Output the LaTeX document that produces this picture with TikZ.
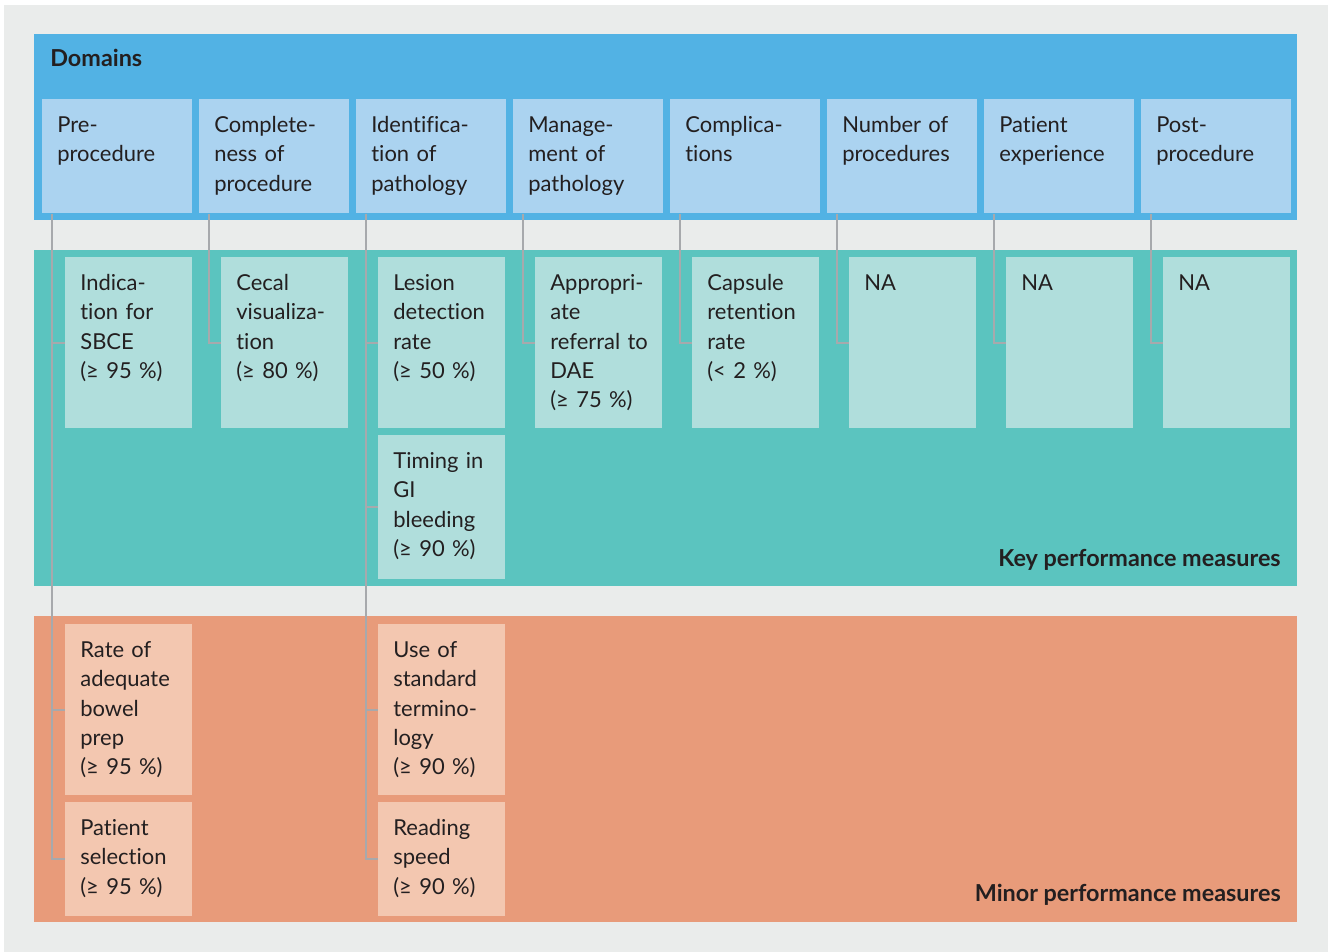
\documentclass[tikz,border=0pt]{standalone}
\usepackage{fontspec}
\setmainfont{Lato}[Ligatures=NoCommon]
\usepackage{tikz}
\newlength{\pxu}
\setlength{\pxu}{0.02cm}
\definecolor{bggray}{HTML}{EAECEB}
\definecolor{domblue}{HTML}{52B2E4}
\definecolor{domcell}{HTML}{ABD3F0}
\definecolor{keyteal}{HTML}{5BC4BF}
\definecolor{keycell}{HTML}{B0DEDC}
\definecolor{minorange}{HTML}{E89B7A}
\definecolor{mincell}{HTML}{F3C7B0}
\definecolor{linkgray}{HTML}{A7A9AC}
\definecolor{txt}{HTML}{231F20}

\begin{document}
\begin{tikzpicture}[x=0.02cm,y=-0.02cm]
\tikzstyle{every node}+=[inner sep=0pt, text=txt, font=\fontsize{12.5pt}{16.7pt}\selectfont]
\tikzstyle{cell}=[anchor=north west, inner xsep=15\pxu, inner ysep=0pt, align=left, text height=33\pxu]
\tikzstyle{domainbox}=[cell, fill=domcell, text width=120\pxu, text depth=81\pxu]
\tikzstyle{keybox}=[cell, fill=keycell, text width=97\pxu, text depth=138\pxu]
\tikzstyle{minorbox}=[cell, fill=mincell, text width=97\pxu, text depth=138\pxu]
\tikzstyle{bandlabel}=[font=\fontsize{13.3pt}{16.7pt}\selectfont\bfseries]
\tikzstyle{link}=[draw=linkgray, line width=2\pxu]
\useasboundingbox (0,0) rectangle (1330,952);
\fill [white] (0,0) rectangle (1330,952);
\fill [bggray] (4,5) rectangle (1328,952);
\fill [domblue] (34,34) rectangle (1297,220);
\fill [keyteal] (34,250) rectangle (1297,586);
\fill [minorange] (34,616) rectangle (1297,922);
\node [bandlabel, anchor=base west] (domains) at (50,67) {Domains};
\node [bandlabel, anchor=base east] (keylabel) at (1281,567) {Key performance measures};
\node [bandlabel, anchor=base east] (minorlabel) at (1281,902) {Minor performance measures};
\node [domainbox] (d1) at (42,99) {Pre-\\procedure};
\node [domainbox] (d2) at (199,99) {Complete-\\ness of\\procedure};
\node [domainbox] (d3) at (356,99) {Identifica-\\tion of\\pathology};
\node [domainbox] (d4) at (513,99) {Manage-\\ment of\\pathology};
\node [domainbox] (d5) at (670,99) {Complica-\\tions};
\node [domainbox] (d6) at (827,99) {Number~of\\procedures};
\node [domainbox] (d7) at (984,99) {Patient\\experience};
\node [domainbox] (d8) at (1141,99) {Post-\\procedure};
\node [keybox] (k1) at (65,257) {Indica-\\tion~for\\SBCE\\(≥~95~\%)};
\node [keybox] (k2) at (221,257) {Cecal\\visualiza-\\tion\\(≥~80~\%)};
\node [keybox] (k3) at (378,257) {Lesion\\detection\\rate\\(≥~50~\%)};
\node [keybox, text depth=111\pxu] (k3b) at (378,435) {Timing~in\\GI\\bleeding\\(≥~90~\%)};
\node [keybox] (k4) at (535,257) {Appropri-\\ate\\referral~to\\DAE\\(≥~75~\%)};
\node [keybox] (k5) at (692,257) {Capsule\\retention\\rate\\(<~2~\%)};
\node [keybox] (k6) at (849,257) {NA};
\node [keybox] (k7) at (1006,257) {NA};
\node [keybox] (k8) at (1163,257) {NA};
\node [minorbox] (m1a) at (65,624) {Rate~of\\adequate\\bowel\\prep\\(≥~95~\%)};
\node [minorbox, text depth=81\pxu] (m1b) at (65,802) {Patient\\selection\\(≥~95~\%)};
\node [minorbox] (m3a) at (378,624) {Use~of\\standard\\termino-\\logy\\(≥~90~\%)};
\node [minorbox, text depth=81\pxu] (m3b) at (378,802) {Reading\\speed\\(≥~90~\%)};
\draw [link] ([xshift=10\pxu]d1.south west) |- (k1.west);
\draw [link] ([xshift=10\pxu]d1.south west) |- (m1a.west);
\draw [link] ([xshift=10\pxu]d1.south west) |- (m1b.west);
\draw [link] ([xshift=10\pxu]d2.south west) |- (k2.west);
\draw [link] ([xshift=10\pxu]d3.south west) |- (k3.west);
\draw [link] ([xshift=10\pxu]d3.south west) |- (k3b.west);
\draw [link] ([xshift=10\pxu]d3.south west) |- (m3a.west);
\draw [link] ([xshift=10\pxu]d3.south west) |- (m3b.west);
\draw [link] ([xshift=10\pxu]d4.south west) |- (k4.west);
\draw [link] ([xshift=10\pxu]d5.south west) |- (k5.west);
\draw [link] ([xshift=10\pxu]d6.south west) |- (k6.west);
\draw [link] ([xshift=10\pxu]d7.south west) |- (k7.west);
\draw [link] ([xshift=10\pxu]d8.south west) |- (k8.west);
\end{tikzpicture}
\end{document}
